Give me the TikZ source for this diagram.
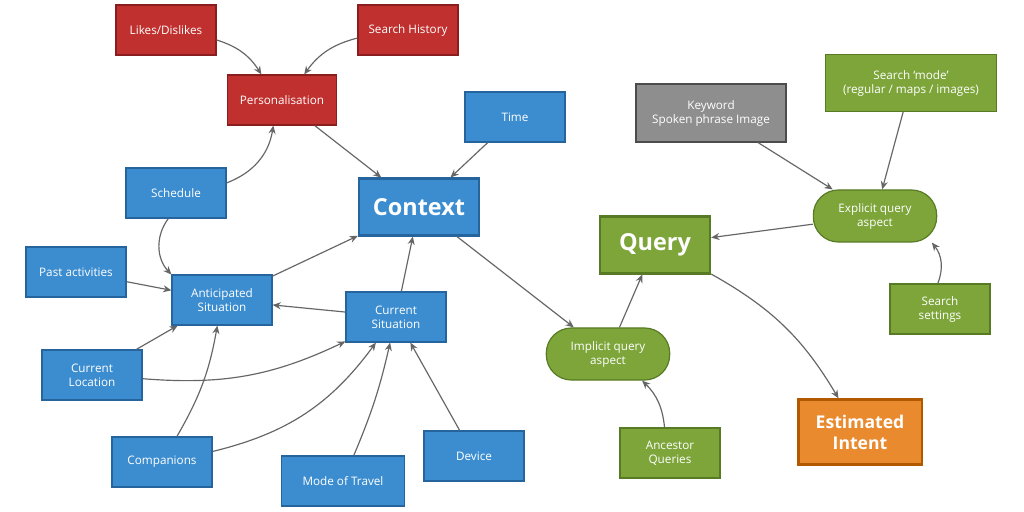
\documentclass[tikz,border=0pt]{standalone}
\usepackage{fontspec}
\setmainfont{Open Sans}
\usetikzlibrary{arrows.meta}
\definecolor{boxblue}{HTML}{3C8DD0}
\definecolor{lineblue}{HTML}{25649C}
\definecolor{boxred}{HTML}{C0302F}
\definecolor{linered}{HTML}{8A1E1E}
\definecolor{boxgreen}{HTML}{7DA53A}
\definecolor{linegreen}{HTML}{587A24}
\definecolor{boxgray}{HTML}{8E8E8E}
\definecolor{boxorange}{HTML}{EA8A2E}
\definecolor{arrowgray}{HTML}{666666}
\tikzset{
  box/.style={draw, line width=1pt, text=white, align=center, minimum width=3cm, minimum height=1.5cm, font=\fontsize{10}{12}\selectfont, inner sep=2pt},
  bluebox/.style={box, fill=boxblue, draw=lineblue},
  redbox/.style={box, fill=boxred, draw=linered},
  greenbox/.style={box, fill=boxgreen, draw=linegreen},
  graybox/.style={box, fill=boxgray, draw=gray!60!black, minimum width=4.5cm, minimum height=1.74cm},
  pill/.style={box, fill=boxgreen, draw=linegreen, rounded corners=0.75cm, minimum width=3.7cm, minimum height=1.56cm},
  bigbox/.style={box, line width=2pt, font=\fontsize{20}{24}\selectfont\bfseries, minimum width=3.6cm, minimum height=1.7cm},
  arr/.style={-{Stealth[length=7pt,width=6pt]}, draw=arrowgray, line width=1pt}
}
\begin{document}
\begin{tikzpicture}[x=0.03cm, y=-0.03cm]
\useasboundingbox[fill=white] (0,0) rectangle (1024,512);
\node[redbox] (likes) at (166,30) {Likes/Dislikes};
\node[redbox] (history) at (408,30) {Search History};
\node[redbox, minimum width=3.27cm] (pers) at (282,100) {Personalisation};
\node[bluebox] (time) at (515,117) {Time};
\node[bluebox] (sched) at (176,193) {Schedule};
\node[bigbox, fill=boxblue, draw=lineblue] (context) at (419,207) {Context};
\node[bluebox] (past) at (76,272) {Past activities};
\node[bluebox] (antic) at (222,300) {Anticipated\\Situation};
\node[bluebox] (cursit) at (396,317) {Current\\Situation};
\node[bluebox] (curloc) at (92,375) {Current\\Location};
\node[bluebox] (comp) at (162,462) {Companions};
\node[bluebox, minimum width=3.7cm] (mode) at (343,481) {Mode of Travel};
\node[bluebox] (device) at (474,456) {Device};
\node[graybox] (keyword) at (711,113) {Keyword\\Spoken phrase Image};
\node[greenbox, minimum width=5.15cm, minimum height=1.71cm] (smode) at (911,83) {Search `mode'\\(regular / maps / images)};
\node[pill] (explicit) at (875,216) {Explicit query\\aspect};
\node[bigbox, fill=boxgreen, draw=linegreen, minimum width=3.3cm] (query) at (655,245) {Query};
\node[greenbox] (settings) at (940,309) {Search\\settings};
\node[pill] (implicit) at (608,354) {Implicit query\\aspect};
\node[greenbox] (ancestor) at (670,453) {Ancestor\\Queries};
\node[bigbox, fill=boxorange, draw=orange!70!black, font=\fontsize{15}{18}\selectfont\bfseries, minimum width=3.7cm, minimum height=1.95cm] (intent) at (860,432) {Estimated\\Intent};

\draw[arr] (likes) to[bend left=20] (pers);
\draw[arr] (history) to[bend right=20] (pers);
\draw[arr] (pers) -- (context);
\draw[arr] (time) -- (context);
\draw[arr] (sched) to[bend right=30] (pers);
\draw[arr] (sched) to[bend right=40] (antic);
\draw[arr] (past) -- (antic);
\draw[arr] (antic) -- (context);
\draw[arr] (cursit) -- (antic);
\draw[arr] (cursit) -- (context);
\draw[arr] (curloc) -- (antic);
\draw[arr] (curloc) to[bend right=15] (cursit);
\draw[arr] (comp) to[bend right=10] (antic);
\draw[arr] (comp) to[bend right=20] (cursit);
\draw[arr] (mode) to[bend right=5] (cursit);
\draw[arr] (device) -- (cursit);
\draw[arr] (context) -- (implicit);
\draw[arr] (implicit) -- (query);
\draw[arr] (ancestor) to[bend right=20] (implicit);
\draw[arr] (explicit) -- (query);
\draw[arr] (keyword) -- (explicit);
\draw[arr] (smode) -- (explicit);
\draw[arr] (settings) to[bend right=30] (explicit);
\draw[arr] (query) to[bend left=15] (intent);
\end{tikzpicture}
\end{document}
